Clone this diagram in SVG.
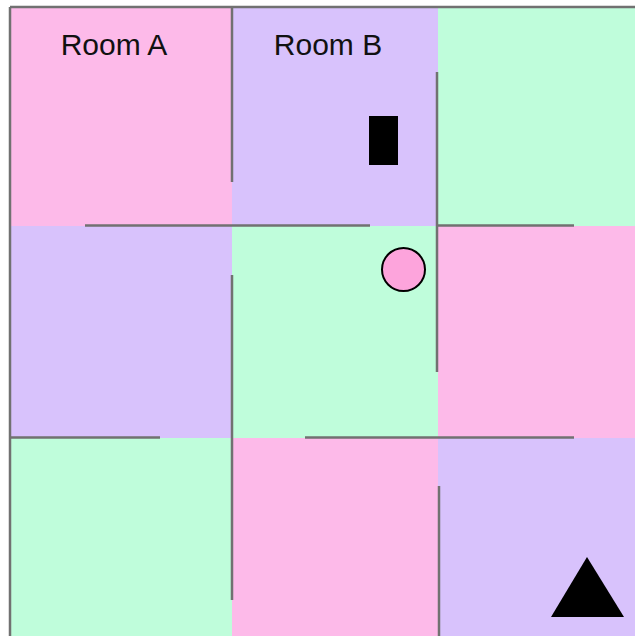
<svg xmlns="http://www.w3.org/2000/svg" width="635" height="636" viewBox="0 0 635 636">
<style>
.pink{fill:#fdbae9}.purple{fill:#d8c2fc}.green{fill:#bffddb}
.wall{stroke:#717171;stroke-width:2.5;fill:none}
.label{font-family:"Liberation Sans",Arial,sans-serif;font-size:30px;fill:#111;text-anchor:middle}
</style>
<rect width="635" height="636" fill="#ffffff"/>
<g id="rooms">
<rect id="roomA" class="pink" x="10" y="7" width="222" height="219"/>
<rect id="roomB" class="purple" x="232" y="7" width="206" height="219"/>
<rect id="room13" class="green" x="438" y="7" width="197" height="219"/>
<rect id="room21" class="purple" x="10" y="226" width="222" height="212"/>
<rect id="room22" class="green" x="232" y="226" width="206" height="212"/>
<rect id="room23" class="pink" x="438" y="226" width="197" height="212"/>
<rect id="room31" class="green" x="10" y="438" width="222" height="198"/>
<rect id="room32" class="pink" x="232" y="438" width="206" height="198"/>
<rect id="room33" class="purple" x="438" y="438" width="197" height="198"/>
</g>
<g id="walls" class="wall">
<line x1="10" y1="7" x2="635" y2="7"/>
<line x1="10" y1="7" x2="10" y2="636"/>
<line x1="232" y1="7" x2="232" y2="182"/>
<line x1="85" y1="225.5" x2="370" y2="225.5"/>
<line x1="438" y1="225.5" x2="574" y2="225.5"/>
<line x1="437" y1="72" x2="437" y2="372"/>
<line x1="232" y1="275" x2="232" y2="600"/>
<line x1="10" y1="437.5" x2="160" y2="437.5"/>
<line x1="305" y1="437.5" x2="574" y2="437.5"/>
<line x1="439" y1="486" x2="439" y2="636"/>
</g>
<g id="labels">
<text class="label" x="114" y="54.5">Room A</text>
<text class="label" x="328" y="54.5">Room B</text>
</g>
<g id="block"><rect x="369" y="116" width="29" height="49" fill="#000"/></g>
<g id="ball"><circle cx="403.5" cy="269.5" r="21.5" fill="#fda4dc" stroke="#000" stroke-width="2"/></g>
<g id="goal"><polygon points="587,557 551,617 624,617" fill="#000"/></g>
</svg>
